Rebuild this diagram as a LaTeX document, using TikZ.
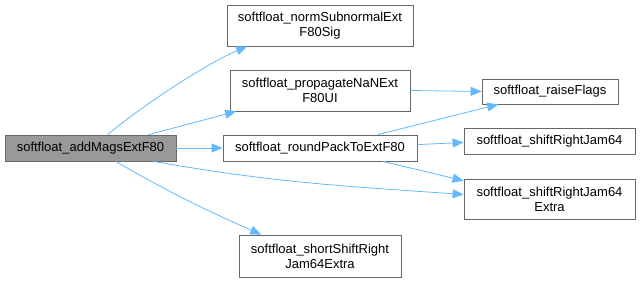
\documentclass[tikz,border=0pt]{standalone}
\usepackage{fontspec}
\setmainfont{Liberation Sans}
\usetikzlibrary{arrows.meta}
\definecolor{edgeblue}{HTML}{63B8FF}
\definecolor{boxline}{HTML}{666666}
\definecolor{mainfill}{HTML}{999999}
\tikzset{
  fn/.style={draw=boxline, fill=white, line width=0.8pt, inner sep=0pt, align=center,
    font=\fontsize{13}{15}\selectfont},
  call/.style={draw=edgeblue, line width=0.8pt, -{Triangle[length=11pt,width=9pt]}}
}
\begin{document}
\begin{tikzpicture}[x=1pt,y=1pt]
	\useasboundingbox (0,0) rectangle (641,282);
	\node[fn, fill=mainfill, minimum width=171pt, minimum height=26pt] (main) at (90.5,134) {softfloat\_addMagsExtF80};
	\node[fn, minimum width=186pt, minimum height=41pt] (normsub) at (320,256.5) {softfloat\_normSubnormalExt\\F80Sig};
	\node[fn, minimum width=180pt, minimum height=41pt] (propnan) at (320,191.5) {softfloat\_propagateNaNExt\\F80UI};
	\node[fn, minimum width=194pt, minimum height=26pt] (roundpack) at (320,134) {softfloat\_roundPackToExtF80};
	\node[fn, minimum width=162pt, minimum height=42pt] (shortshift) at (320,26) {softfloat\_shortShiftRight\\Jam64Extra};
	\node[fn, minimum width=136pt, minimum height=25pt] (raiseflags) at (550,190.5) {softfloat\_raiseFlags};
	\node[fn, minimum width=171pt, minimum height=26pt] (sr64) at (549.5,141) {softfloat\_shiftRightJam64};
	\node[fn, minimum width=171pt, minimum height=40pt] (sr64x) at (549.5,83) {softfloat\_shiftRightJam64\\Extra};

	% calls made by the main routine
	\draw[call] (main.38) to[out=40,in=203,looseness=0.7] (normsub.196);
	\draw[call] (main.13) -- (propnan.194);
	\draw[call] (main.east) -- (roundpack.west);
	\draw[call] (main.-12) to[out=-10,in=176] (sr64x.177);
	\draw[call] (main.-28) to[out=-30,in=156] (shortshift.160);

	% second level
	\draw[call] (propnan.east) -- (raiseflags.west);
	\draw[call] (roundpack.13) -- (raiseflags.194);
	\draw[call] (roundpack.2) -- (sr64.181);
	\draw[call] (roundpack.-12) -- (sr64x.168);
\end{tikzpicture}
\end{document}
